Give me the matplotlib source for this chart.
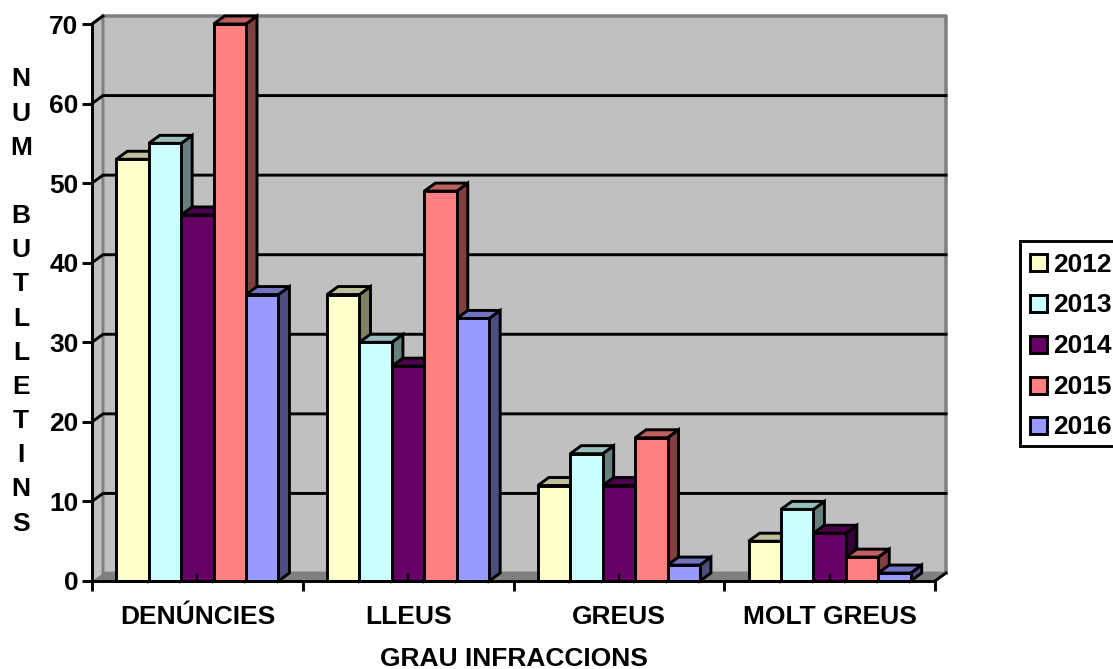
import numpy as np
import matplotlib
matplotlib.use('Agg')
import matplotlib.pyplot as plt
from matplotlib.patches import Polygon, Rectangle

plt.rcParams['font.family'] = ['Liberation Sans', 'DejaVu Sans']
plt.rcParams['font.weight'] = 'bold'

categories = ['DENÚNCIES', 'LLEUS', 'GREUS', 'MOLT GREUS']
years = ['2012', '2013', '2014', '2015', '2016']
v2012 = [53, 36, 12, 5]
v2013 = [55, 30, 16, 9]
v2014 = [46, 27, 12, 6]
v2015 = [70, 49, 18, 3]
v2016 = [36, 33, 2, 1]
series = [v2012, v2013, v2014, v2015, v2016]
colors = ['#FFFFCC', '#CCFFFF', '#660066', '#FF8080', '#9999FF']
tops = ['#BFBF99', '#99BFBF', '#4D004D', '#BF6060', '#7373BF']
sides = ['#808066', '#668080', '#330033', '#804040', '#4D4D80']
yticks = [0, 10, 20, 30, 40, 50, 60, 70]

W, H = 1113, 669
LW = 2.1
FS = 19
fig = plt.figure(figsize=(W / 100, H / 100), dpi=100)
ax = fig.add_axes([92 / W, 1 - 581 / H, (935 - 92) / W, (581 - 24) / H])
ax.set_xlim(0, 4)
ax.set_ylim(0, 70)
ax.patch.set_visible(False)

# depth of the fake 3d box, in data units
dx = 11 / (843 / 4)
dy = 8 / (557 / 70)
bar_w = 1 / 6.5

# walls and floor
ax.add_patch(Polygon([(dx, dy), (4 + dx, dy), (4 + dx, 70 + dy), (dx, 70 + dy)], fc='#C0C0C0', ec='none', clip_on=False, zorder=0))
ax.add_patch(Polygon([(0, 0), (dx, dy), (dx, 70 + dy), (0, 70)], fc='#C0C0C0', ec='none', clip_on=False, zorder=0))
ax.add_patch(Polygon([(0, 0), (4, 0), (4 + dx, dy), (dx, dy)], fc='#808080', ec='none', clip_on=False, zorder=0))
ax.plot([0, dx, dx, 4 + dx, 4 + dx], [70, 70 + dy, dy, dy, dy], color='#808080', lw=LW, clip_on=False, zorder=1)
ax.plot([dx, 4 + dx, 4 + dx], [70 + dy, 70 + dy, dy], color='#808080', lw=LW * 1.2, clip_on=False, zorder=1)

# gridlines
for t in yticks[1:]:
    ax.plot([0, dx, 4 + dx if t < 70 else dx], [t, t + dy, t + dy], color='black', lw=LW, clip_on=False, zorder=1.5, solid_joinstyle='miter')
ax.plot([4, 4 + dx], [0, dy], color='black', lw=LW, clip_on=False, zorder=1.5)

# bars, left to right so each one covers the side of the one before
z = 2
for c in range(len(categories)):
    for s in range(len(series)):
        val = series[s][c]
        x0 = c + 0.75 * bar_w + s * bar_w
        ax.add_patch(Polygon([(x0 + bar_w, 0), (x0 + bar_w + dx, dy), (x0 + bar_w + dx, val + dy), (x0 + bar_w, val)],
                             fc=sides[s], ec='black', lw=LW, clip_on=False, zorder=z))
        ax.add_patch(Polygon([(x0, val), (x0 + dx, val + dy), (x0 + bar_w + dx, val + dy), (x0 + bar_w, val)],
                             fc=tops[s], ec='black', lw=LW, clip_on=False, zorder=z))
        ax.bar(x0, val, bar_w, align='edge', color=colors[s], edgecolor='black', lw=LW, zorder=z + 0.5, clip_on=False)
        z += 1

# little stub the original leaves at the middle of each group
for c in range(len(categories)):
    ax.plot([c + 0.5, c + 0.5], [0, 0.7], color='black', lw=LW * 0.8, zorder=150)

for name in ['top', 'right']:
    ax.spines[name].set_visible(False)
for name in ['left', 'bottom']:
    ax.spines[name].set_linewidth(LW)
    ax.spines[name].set_zorder(200)

ax.set_yticks(yticks)
ax.tick_params(axis='y', length=7.2, width=LW, pad=2.5, labelsize=FS)
ax.set_xticks(range(5))
ax.set_xticklabels([])
ax.set_xticks(np.arange(4) + 0.5, categories, minor=True)
ax.tick_params(axis='x', which='major', length=7.2, width=LW)
ax.tick_params(axis='x', which='minor', length=0, pad=17, labelsize=FS)

fig.text(514 / W, 1 - 659 / H, 'GRAU INFRACCIONS', ha='center', va='center', fontsize=FS)
fig.text(21 / W, 1 - 301.5 / H, 'N\nU\nM\n\nB\nU\nT\nL\nL\nE\nT\nI\nN\nS', ha='center', va='center', fontsize=FS, linespacing=1.535)

# legend, it runs off the right edge in the original
def px(x, y):
    return x / W, 1 - y / H

fig.add_artist(Rectangle(px(1020, 446), 110 / W, 205 / H, transform=fig.transFigure, fc='white', ec='black', lw=LW))
for i, year in enumerate(years):
    yc = 263 + i * 40.7
    fig.add_artist(Rectangle(px(1029.5, yc + 8.5), 17 / W, 17 / H, transform=fig.transFigure, fc=colors[i], ec='black', lw=LW))
    fig.text(1053 / W, 1 - (yc + 1.5) / H, year, ha='left', va='center', fontsize=FS)

fig.savefig('out.png', dpi=100)
